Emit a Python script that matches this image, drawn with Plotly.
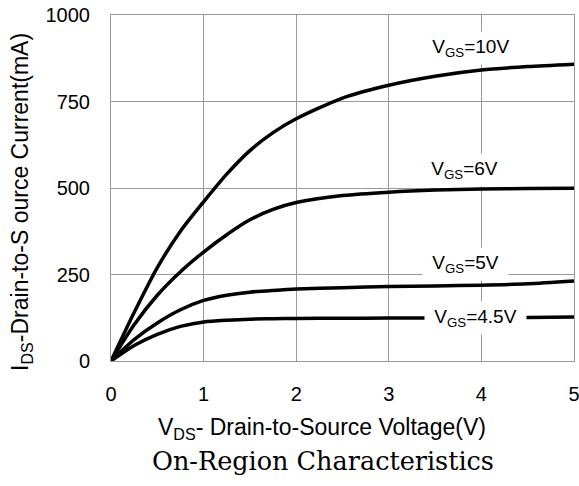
import plotly.graph_objects as go

vds = [0, 0.25, 0.5, 0.75, 1, 1.25, 1.5, 1.75, 2, 2.5, 3, 3.5, 4, 4.5, 5]
id_10v = [0, 140, 270, 375, 460, 540, 608, 660, 700, 760, 797, 823, 841, 851, 858]
id_6v = [0, 105, 190, 258, 315, 365, 408, 438, 458, 478, 488, 494, 497, 498.5, 499.5]
id_5v = [0, 62, 110, 148, 175, 190, 199, 204, 208, 212, 215, 217, 219, 223, 231]
id_45v = [0, 45, 77, 100, 113, 118, 121, 122, 123, 123.5, 124, 124.5, 125, 126, 127]

labels = ["V<sub>GS</sub>=10V", "V<sub>GS</sub>=6V", "V<sub>GS</sub>=5V", "V<sub>GS</sub>=4.5V"]
label_x = [3.88, 3.82, 3.83, 3.94]
label_y = [905, 552, 280, 124]

x_ticks = [0, 1, 2, 3, 4, 5]
y_ticks = [0, 250, 500, 750, 1000]

fig = go.Figure()
for ys in [id_10v, id_6v, id_5v, id_45v]:
    fig.add_trace(go.Scatter(x=vds, y=ys, mode="lines",
                             line=dict(color="black", width=3.5, shape="spline", smoothing=0.7),
                             showlegend=False, hoverinfo="skip"))

font_sans = "Liberation Sans, Arial, sans-serif"
for t, x, y in zip(labels, label_x, label_y):
    fig.add_annotation(x=x, y=y, text="&nbsp;" + t + "&nbsp;", showarrow=False, bgcolor="white",
                       font=dict(family=font_sans, size=19, color="black"),
                       borderpad=4)

fig.add_annotation(xref="paper", yref="paper", x=0.456, y=-0.194, text="V<sub>DS</sub>- Drain-to-Source Voltage(V)",
                   showarrow=False, font=dict(family=font_sans, size=23, color="black"), xanchor="center", yanchor="middle")
fig.add_annotation(xref="paper", yref="paper", x=-0.192, y=0.46, text="I<sub>DS</sub>-Drain-to-S ource Current(mA)",
                   showarrow=False, textangle=-90, font=dict(family=font_sans, size=23, color="black"), xanchor="center", yanchor="middle")
fig.add_annotation(xref="paper", yref="paper", x=0.458, y=-0.288, text="On-Region Characteristics",
                   showarrow=False, font=dict(family="DejaVu Serif, serif", size=25.5, color="black"), xanchor="center", yanchor="middle")

fig.update_xaxes(range=[0, 5], tickvals=x_ticks, showgrid=True, gridcolor="#9a9a9a", gridwidth=1,
                 showline=True, linecolor="#9a9a9a", linewidth=1, mirror=True, zeroline=False, automargin=False,
                 ticks="", tickfont=dict(family=font_sans, size=20, color="black"), ticklabelstandoff=15,
                 ticklabeloverflow="allow")
fig.update_yaxes(range=[0, 1000], tickvals=y_ticks, showgrid=True, gridcolor="#9a9a9a", gridwidth=1,
                 showline=True, linecolor="#9a9a9a", linewidth=1, mirror=True, zeroline=False, automargin=False,
                 ticks="", tickfont=dict(family=font_sans, size=20, color="black"), ticklabelstandoff=16,
                 ticklabeloverflow="allow")

fig.update_layout(width=579, height=486, margin=dict(l=111, r=5, t=15, b=125),
                  plot_bgcolor="white", paper_bgcolor="white")
# remove the default page margin so the figure fills the 579x486 window exactly
fig.write_html("out.html", config={"displayModeBar": False},
               post_script="document.body.style.margin='0';document.body.style.overflow='hidden';")
